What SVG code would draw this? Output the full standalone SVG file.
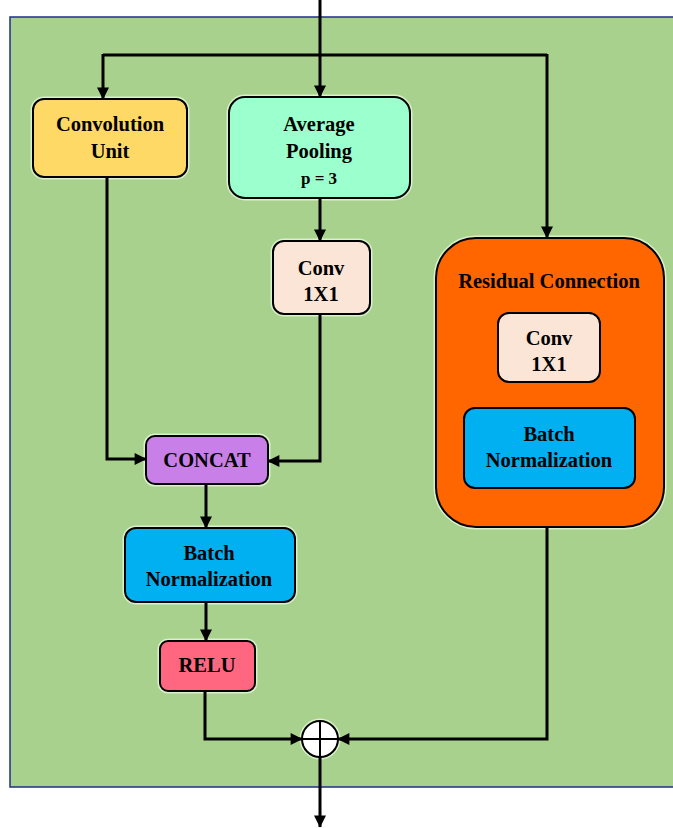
<svg xmlns="http://www.w3.org/2000/svg" width="673" height="828" viewBox="0 0 673 828">
<defs>
<marker id="ah" viewBox="0 0 10 10" refX="9.5" refY="5" markerWidth="13" markerHeight="12" markerUnits="userSpaceOnUse" orient="auto">
<path d="M0,0 L10,5 L0,10 z" fill="#000"/>
</marker>
<style>
.box{stroke:#000;stroke-width:2}
.halo{fill:none;stroke:#d9f2c9;stroke-width:5}
.t{font-family:"Liberation Serif","Times New Roman",serif;font-weight:bold;font-size:20.5px;fill:#000;text-anchor:middle}
.c{fill:none;stroke:#000;stroke-width:3;marker-end:url(#ah)}
.ln{fill:none;stroke:#000;stroke-width:3}
</style>
</defs>
<rect x="0" y="0" width="673" height="828" fill="#fff"/>
<rect id="bg" x="10" y="17" width="670" height="770" fill="#A9D18E" stroke="#1F2E8A" stroke-width="1.5"/>

<g id="conv-unit">
<rect class="halo" x="33" y="99" width="154" height="78" rx="11"/>
<rect class="box" x="33" y="99" width="154" height="78" rx="11" fill="#FFD966"/>
<text class="t" x="110" y="131">Convolution</text>
<text class="t" x="110" y="158">Unit</text>
</g>

<g id="avg-pool">
<rect class="halo" x="229" y="97" width="181" height="101" rx="16"/>
<rect class="box" x="229" y="97" width="181" height="101" rx="16" fill="#9CFFCE"/>
<text class="t" x="319" y="131">Average</text>
<text class="t" x="319" y="158">Pooling</text>
<text class="t" x="319" y="184" style="font-size:17px">p = 3</text>
</g>

<g id="conv1x1-mid">
<rect class="halo" x="273" y="241" width="97" height="73" rx="11"/>
<rect class="box" x="273" y="241" width="97" height="73" rx="11" fill="#FBE5D6"/>
<text class="t" x="321" y="275">Conv</text>
<text class="t" x="321" y="301">1X1</text>
</g>

<g id="residual">
<rect class="halo" x="436" y="238" width="228" height="289" rx="40"/>
<rect class="box" x="436" y="238" width="228" height="289" rx="40" fill="#FF6600"/>
<text class="t" x="549" y="288">Residual Connection</text>
<g id="res-conv1x1">
<rect class="box" x="498" y="313" width="102" height="69" rx="11" fill="#FBE5D6"/>
<text class="t" x="549" y="345">Conv</text>
<text class="t" x="549" y="371">1X1</text>
</g>
<g id="res-bn">
<rect class="box" x="464" y="408" width="171" height="80" rx="11" fill="#00B0F0"/>
<text class="t" x="549" y="441">Batch</text>
<text class="t" x="549" y="467">Normalization</text>
</g>
</g>

<g id="concat">
<rect class="halo" x="146" y="436" width="122" height="48" rx="9"/>
<rect class="box" x="146" y="436" width="122" height="48" rx="9" fill="#C880E8"/>
<text class="t" x="207" y="467">CONCAT</text>
</g>

<g id="bn">
<rect class="halo" x="125" y="528" width="170" height="74" rx="11"/>
<rect class="box" x="125" y="528" width="170" height="74" rx="11" fill="#00B0F0"/>
<text class="t" x="209" y="560">Batch</text>
<text class="t" x="209" y="586">Normalization</text>
</g>

<g id="relu">
<rect class="halo" x="160" y="641" width="95" height="50" rx="8"/>
<rect class="box" x="160" y="641" width="95" height="50" rx="8" fill="#FF6680"/>
<text class="t" x="207" y="672">RELU</text>
</g>

<g id="add">
<circle cx="320" cy="739" r="18" fill="#fff" stroke="#d9f2c9" stroke-width="5"/>
<circle cx="320" cy="739" r="18" fill="#fff" stroke="#000" stroke-width="2"/>
<line x1="302" y1="739" x2="338" y2="739" stroke="#000" stroke-width="2"/>
<line x1="320" y1="721" x2="320" y2="757" stroke="#000" stroke-width="2"/>
</g>

<g id="connectors">
<path class="c" d="M320,0 V97"/>
<path class="ln" d="M103,55 H547"/>
<path class="c" d="M103,54 V99"/>
<path class="c" d="M547,54 V238"/>
<path class="c" d="M320,198 V241"/>
<path class="c" d="M107,177 V459 H146"/>
<path class="c" d="M320,314 V461 H268"/>
<path class="c" d="M206,484 V528"/>
<path class="c" d="M206,602 V641"/>
<path class="c" d="M205,691 V739 H302"/>
<path class="c" d="M547,527 V739 H338"/>
<path class="c" d="M320,757 V827"/>
</g>
</svg>
